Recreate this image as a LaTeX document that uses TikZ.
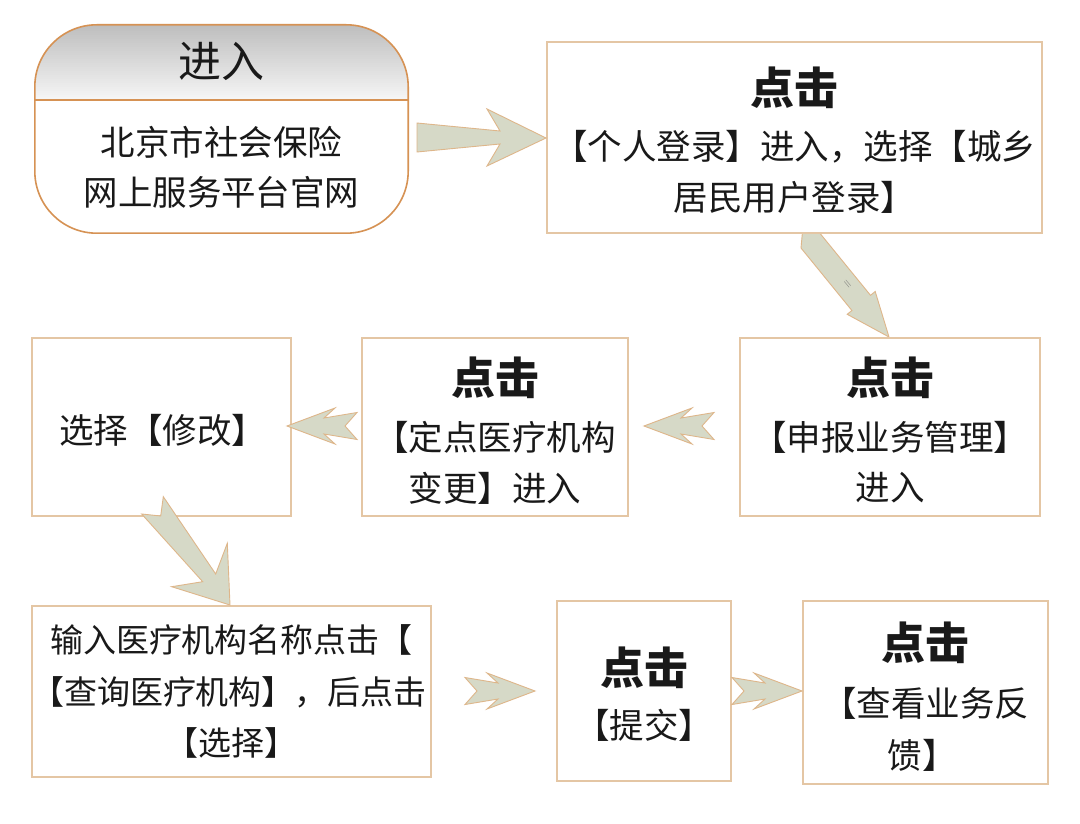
\documentclass[tikz,border=0pt]{standalone}
\usepackage{fontspec}
\newfontfamily\cjk{Noto Sans CJK SC}
\definecolor{rborder}{RGB}{214,146,84}
\definecolor{bborder}{RGB}{228,198,164}
\definecolor{afill}{RGB}{214,217,199}
\definecolor{aborder}{RGB}{222,182,138}
\definecolor{hdtop}{RGB}{190,190,190}
\definecolor{hdbot}{RGB}{246,246,246}
\definecolor{txt}{RGB}{25,25,25}
\tikzset{
  rectbox/.style={draw=bborder, line width=1.2pt, fill=white, inner sep=0pt},
  arrowsty/.style={draw=aborder, line width=0.9pt, fill=afill, line join=miter},
  body/.style={font=\cjk\fontsize{34.5}{40}\selectfont, text=txt, inner sep=0pt},
  bodys/.style={font=\cjk\fontsize{33}{40}\selectfont, text=txt, inner sep=0pt},
  head/.style={font=\cjk\bfseries\fontsize{44}{50}\selectfont, text=txt, inner sep=0pt},
  chev/.pic={\draw[arrowsty] (0,0) -- (-48,-18) -- (-37,-8) -- (-70,-13.5) -- (-58,0) -- (-70,13.5) -- (-37,8) -- (-48,18) -- cycle;}
}
\begin{document}
\begin{tikzpicture}[x=1pt,y=-1pt]
\useasboundingbox[fill=white] (0,0) rectangle (1080,824);

% diagonal arrow box2 -> box3 (drawn first, tail hidden by box2)
\coordinate (d1tip) at (889,337);
\draw[arrowsty] (d1tip) -- (875.2,291.5) -- (870.5,295.3) -- (814,226) -- (803,226) -- (801,248) -- (851.9,310.5) -- (847.2,314.3) -- cycle;
\node[font=\fontsize{12}{12}\selectfont, text=black!55, rotate=-50] (eq) at (847,285) {=};

% box 1 (rounded, with shaded header; path picture coordinates are relative to the node centre)
\node[fill=white, rounded corners=62pt, minimum width=373pt, minimum height=208pt, inner sep=0pt,
  path picture={
    \foreach \i in {0,...,37} {
      \pgfmathsetmacro\pc{100-\i*100/37}
      \fill[sharp corners, hdtop!\pc!hdbot] (-192,{-104+2*\i}) rectangle (192,{-101.7+2*\i});
    }
    \draw[sharp corners, rborder, line width=1.5pt] (-192,-29) -- (192,-29);
  }] (b1) at (221.5,129) {};
\draw[rborder, line width=1.6pt, rounded corners=62pt] (b1.south west) rectangle (b1.north east);
\node[font=\cjk\fontsize{43}{50}\selectfont, text=txt, inner sep=0pt] (t1a) at (221.5,61) {进入};
\node[body] (t1b) at (221.5,142) {北京市社会保险};
\node[body] (t1c) at (221.5,192) {网上服务平台官网};

% box 2
\node[rectbox, minimum width=495pt, minimum height=191pt] (b2) at (794.5,137.5) {};
\node[head] (t2a) at (794.5,88) {点击};
\node[body] (t2b) at (794.5,147) {【个人登录】进入，选择【城乡};
\node[body] (t2c) at (794.5,197) {居民用户登录】};

% box 3
\node[rectbox, minimum width=300pt, minimum height=178pt] (b3) at (890,427) {};
\node[head] (t3a) at (890,378) {点击};
\node[body] (t3b) at (890,437) {【申报业务管理】};
\node[body] (t3c) at (890,488) {进入};

% box 4
\node[rectbox, minimum width=266pt, minimum height=178pt] (b4) at (495,427) {};
\node[head] (t4a) at (495,378) {点击};
\node[body] (t4b) at (495,437) {【定点医疗机构};
\node[body] (t4c) at (495,488) {变更】进入};

% box 5
\node[rectbox, minimum width=259pt, minimum height=178pt] (b5) at (161.5,427) {};
\node[body] (t5a) at (163,430) {选择【修改】};

% box 6
\node[rectbox, minimum width=399pt, minimum height=171pt] (b6) at (231.5,691.5) {};
\node[bodys] (t6a) at (231.5,640) {输入医疗机构名称点击【};
\node[bodys] (t6b) at (229,692) {【查询医疗机构】，后点击};
\node[bodys] (t6c) at (231.5,743) {【选择】};

% box 7
\node[rectbox, minimum width=174pt, minimum height=180pt] (b7) at (644,691) {};
\node[head] (t7a) at (644,668) {点击};
\node[body] (t7b) at (644,725) {【提交】};

% box 8
\node[rectbox, minimum width=245pt, minimum height=183pt] (b8) at (925.5,692.5) {};
\node[head] (t8a) at (925.5,643) {点击};
\node[body] (t8b) at (925.5,703) {【查看业务反};
\node[body] (t8c) at (922,755) {馈】};

% top arrow box1 -> box2
\draw[arrowsty] (417,123) -- (500,131) -- (487,109) -- (546,138) -- (487,166) -- (500,144) -- (417,152) -- cycle;

% diagonal arrow box5 -> box6
\draw[arrowsty] (163.3,496.7) -- (215.7,574) -- (227.3,543.3) -- (230,605) -- (171.7,586.7) -- (202.7,581.7) -- (141.7,514) -- (160.7,516) -- cycle;

% chevron arrows
\coordinate (cA) at (287,426);
\coordinate (cB) at (644,426);
\coordinate (cC) at (535,691);
\coordinate (cD) at (802,691);
\pic[xscale=-1] at (cA) {chev};
\pic[xscale=-1] at (cB) {chev};
\pic at (cC) {chev};
\pic at (cD) {chev};
\end{tikzpicture}
\end{document}
